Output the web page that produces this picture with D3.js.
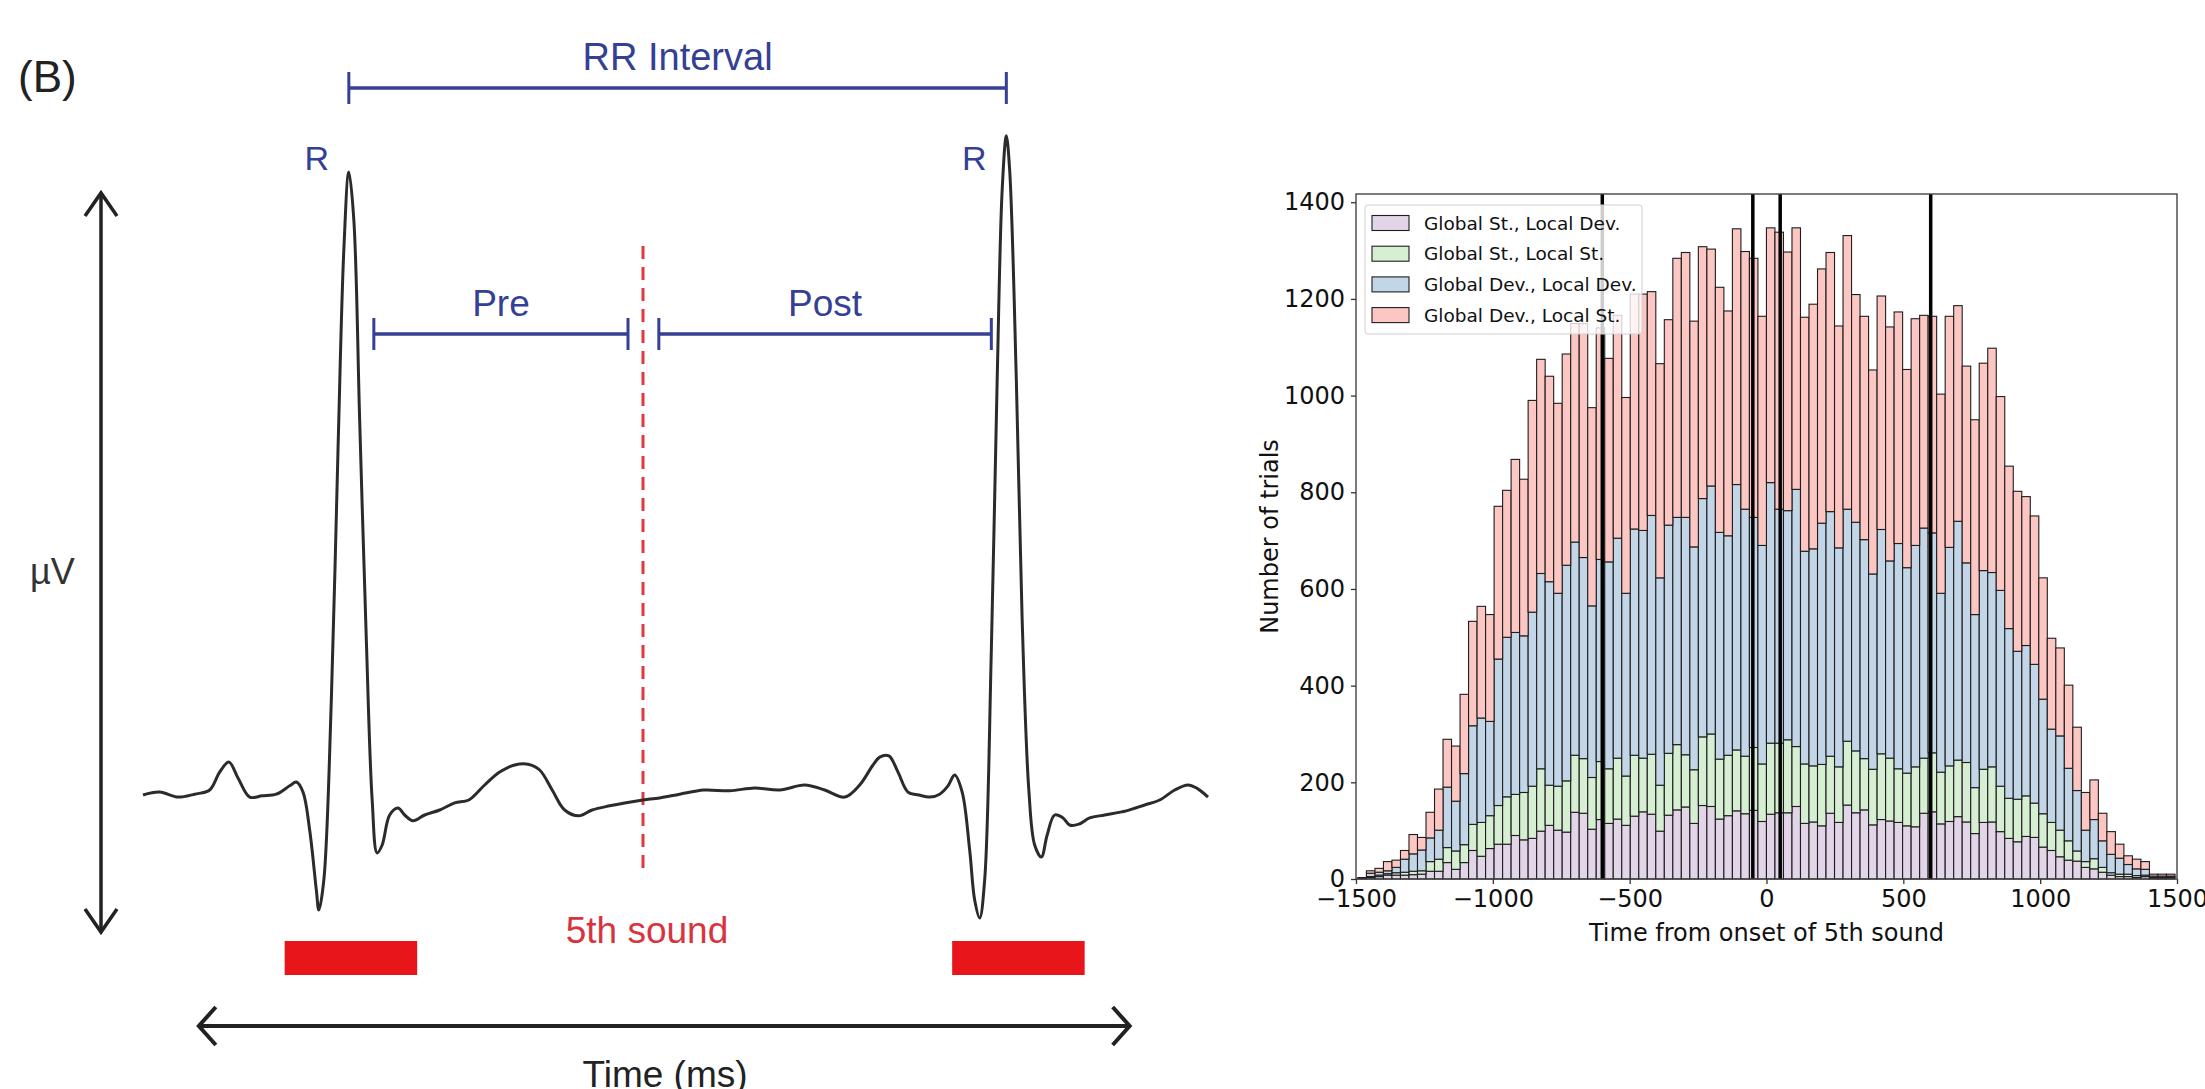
<!DOCTYPE html>
<html>
<head>
<meta charset="utf-8">
<script src="https://cdn.jsdelivr.net/npm/d3@7"></script>
<style>
  body { margin: 0; background: #fff; }
  svg { display: block; }
</style>
</head>
<body>
<div id="chart"></div>
<script>
// ---------- left panel: schematic ECG (time in ms, amplitude in µV)
const ecgTime = [0,20,42,62,80,92,103,114,128,143,160,176,184,192,200,208,211,217,226,234,241,247,253,260,268,275,281,287,296,306,314,324,338,356,374,391,410,428,446,462,476,491,506,523,539,560,578,600,620,644,673,704,734,764,794,818,842,860,876,884,895,906,918,931,944,956,966,974,983,992,998,1004,1010,1018,1025,1031,1036,1040,1048,1055,1063,1070,1078,1085,1094,1104,1112,1123,1136,1154,1180,1202,1220,1238,1254,1264,1278];
const ecgVolt = [0,7,-5,2,12,55,79,41,-5,-2,2,22,31,7,-84,-228,-276,-204,228,828,1308,1495,1380,900,372,-12,-139,-120,-48,-31,-48,-62,-48,-36,-19,-12,24,55,72,74,60,12,-36,-50,-36,-26,-19,-12,-7,2,12,10,17,12,24,12,-5,24,72,91,94,55,7,0,-5,2,22,48,7,-132,-252,-295,-204,348,996,1452,1582,1500,996,420,12,-120,-149,-96,-48,-55,-72,-70,-55,-48,-38,-24,-12,12,24,17,-5];
const rPeaks = [247, 1036];
const preWindow = [277, 582];
const postWindow = [619, 1018];
const soundOnset = 600;
const redWindows = [[170, 329], [971, 1130]];
const timeSpan = [67, 1184];
const voltSpan = [-329, 1445];

// ---------- right panel: stacked histogram of trials
const binStart = -1493, binWidth = 31.1;
const seriesNames = ["Global St., Local Dev.", "Global St., Local St.", "Global Dev., Local Dev.", "Global Dev., Local St."];
const stLocDev = [1,3,5,8,8,8,9,10,16,16,34,20,34,59,47,63,72,72,90,81,84,99,111,101,97,138,136,103,123,115,124,111,130,139,134,99,132,143,149,115,152,150,124,131,141,135,142,119,134,137,137,150,115,118,110,136,117,153,137,143,112,123,120,117,110,108,136,139,114,119,129,118,94,117,118,98,84,77,88,86,66,59,46,39,37,24,21,14,8,5,5,3,5,1,1,2];
const stLocSt = [0,2,3,3,5,6,7,7,20,25,31,38,37,54,70,68,80,98,85,98,108,129,83,91,106,118,113,107,120,113,126,102,126,111,124,95,128,135,108,111,142,150,124,125,126,119,130,119,147,144,151,124,123,116,127,118,115,132,128,106,115,136,130,111,109,124,114,122,107,115,117,123,95,110,114,94,83,88,84,71,69,58,55,40,21,12,21,10,5,5,5,4,3,2,2,2];
const devLocDev = [1,7,6,6,11,27,36,43,49,60,125,103,147,204,216,195,303,330,335,324,360,404,421,399,446,441,416,355,418,428,455,378,468,471,494,429,472,470,491,461,493,513,469,454,549,511,476,452,539,484,474,532,440,449,499,506,453,480,473,453,404,464,408,466,425,458,476,455,370,452,494,413,358,411,402,405,351,306,311,287,237,193,195,150,125,65,81,55,38,33,20,14,12,3,3,2];
const devLocSt = [1,5,8,19,15,18,40,26,53,85,99,114,164,216,231,221,316,304,358,324,438,443,425,393,437,452,484,410,479,421,461,405,486,489,463,443,425,536,548,467,521,490,507,465,529,533,536,474,527,573,535,541,484,506,526,536,459,566,471,462,422,483,484,479,410,469,440,448,412,478,446,407,403,429,464,401,336,331,308,307,251,188,182,172,131,78,82,57,47,29,18,20,16,4,4,4];
const xTicks = [-1500, -1000, -500, 0, 500, 1000, 1500];
const yTicks = [0, 200, 400, 600, 800, 1000, 1200, 1400];
const markerLines = [-600, -50, 50, 600];

const W = 2205, H = 1089;
const svg = d3.select("#chart").append("svg")
  .attr("width", W).attr("height", H)
  .style("background", "#fff");

// ================= left panel =================
const navy = "#343f95";
const left = svg.append("g").style("font-family", "'Liberation Sans', Arial, Helvetica, sans-serif");

const tx = d3.scaleLinear().domain([0, 1200]).range([143, 1143]);
const vy = d3.scaleLinear().domain([0, 1500]).range([795, 170]);

function chevron(g, x, y, dx, dy, color, w) {
  g.append("path")
    .attr("d", `M${x + dx},${y - dy}L${x},${y}L${x + dx},${y + dy}`)
    .attr("fill", "none").attr("stroke", color).attr("stroke-width", w);
}
function chevronV(g, x, y, dx, dy, color, w) {
  g.append("path")
    .attr("d", `M${x - dx},${y + dy}L${x},${y}L${x + dx},${y + dy}`)
    .attr("fill", "none").attr("stroke", color).attr("stroke-width", w);
}

left.append("text").attr("x", 18).attr("y", 92)
  .attr("font-size", 44).attr("fill", "#222").text("(B)");

// RR interval bar
const rrY = 88;
left.append("line").attr("x1", tx(rPeaks[0])).attr("x2", tx(rPeaks[1]))
  .attr("y1", rrY).attr("y2", rrY).attr("stroke", navy).attr("stroke-width", 3.5);
rPeaks.forEach(t => {
  left.append("line").attr("x1", tx(t)).attr("x2", tx(t))
    .attr("y1", rrY - 16).attr("y2", rrY + 16).attr("stroke", navy).attr("stroke-width", 3);
});
left.append("text").attr("x", (tx(rPeaks[0]) + tx(rPeaks[1])) / 2).attr("y", 70)
  .attr("text-anchor", "middle").attr("font-size", 38).attr("fill", navy).text("RR Interval");

// R labels
rPeaks.forEach(t => {
  left.append("text").attr("x", tx(t) - 32).attr("y", 170)
    .attr("text-anchor", "middle").attr("font-size", 34).attr("fill", navy).text("R");
});

// Pre / Post bars
const ppY = 334;
[[preWindow, "Pre"], [postWindow, "Post"]].forEach(([win, label]) => {
  left.append("line").attr("x1", tx(win[0])).attr("x2", tx(win[1]))
    .attr("y1", ppY).attr("y2", ppY).attr("stroke", navy).attr("stroke-width", 3.5);
  win.forEach(t => {
    left.append("line").attr("x1", tx(t)).attr("x2", tx(t))
      .attr("y1", ppY - 16).attr("y2", ppY + 16).attr("stroke", navy).attr("stroke-width", 3);
  });
  left.append("text").attr("x", (tx(win[0]) + tx(win[1])) / 2).attr("y", 316)
    .attr("text-anchor", "middle").attr("font-size", 37).attr("fill", navy).text(label);
});

// dashed 5th sound marker
left.append("line").attr("x1", tx(soundOnset)).attr("x2", tx(soundOnset))
  .attr("y1", 246).attr("y2", 868)
  .attr("stroke", "#e0393e").attr("stroke-width", 3).attr("stroke-dasharray", "13,8");
left.append("text").attr("x", tx(soundOnset) + 4).attr("y", 943)
  .attr("text-anchor", "middle").attr("font-size", 37).attr("fill", "#d8343f").text("5th sound");

// red windows
left.selectAll("rect.win").data(redWindows).enter().append("rect")
  .attr("class", "win")
  .attr("x", d => tx(d[0])).attr("width", d => tx(d[1]) - tx(d[0]))
  .attr("y", 941).attr("height", 34).attr("fill", "#e8161b");

// ECG trace
const ecgLine = d3.line()
  .x((d, i) => tx(ecgTime[i]))
  .y(d => vy(d))
  .curve(d3.curveCatmullRom.alpha(0.5));
left.append("path").datum(ecgVolt)
  .attr("d", ecgLine).attr("fill", "none")
  .attr("stroke", "#2b2b2b").attr("stroke-width", 3).attr("stroke-linejoin", "round");

// amplitude arrow
const ax = 101;
left.append("line").attr("x1", ax).attr("x2", ax)
  .attr("y1", vy(voltSpan[1])).attr("y2", vy(voltSpan[0]))
  .attr("stroke", "#222").attr("stroke-width", 3.5);
chevronV(left, ax, vy(voltSpan[1]), 16, 23, "#222", 3.5);
chevronV(left, ax, vy(voltSpan[0]), 16, -23, "#222", 3.5);
left.append("text").attr("x", 30).attr("y", 584)
  .attr("font-size", 36).attr("fill", "#333").text("µV");

// time arrow
const ay = 1026;
left.append("line").attr("x1", tx(timeSpan[0])).attr("x2", tx(timeSpan[1]))
  .attr("y1", ay).attr("y2", ay).attr("stroke", "#222").attr("stroke-width", 4);
chevron(left, tx(timeSpan[0]), ay, 17, 19, "#222", 4);
chevron(left, tx(timeSpan[1]), ay, -17, 19, "#222", 4);
left.append("text").attr("x", 665).attr("y", 1087)
  .attr("text-anchor", "middle").attr("font-size", 37).attr("fill", "#222").text("Time (ms)");

// ================= right panel =================
const m = { left: 1356, right: 2177, top: 194, bottom: 879 };
const right = svg.append("g").style("font-family", "'DejaVu Sans', sans-serif");

const x = d3.scaleLinear().domain([-1500, 1500]).range([m.left, m.right]);
const y = d3.scaleLinear().domain([0, 1417]).range([m.bottom, m.top]);

const rows = stLocDev.map((v, i) => ({
  x0: binStart + i * binWidth,
  a: stLocDev[i], b: stLocSt[i], c: devLocDev[i], d: devLocSt[i]
}));
const keys = ["a", "b", "c", "d"];
const colors = ["#e2d5e8", "#d6eed2", "#c2d6e8", "#fcc6c2"];
const stacked = d3.stack().keys(keys)(rows);

const layers = right.selectAll("g.layer").data(stacked).enter().append("g")
  .attr("class", "layer").attr("fill", (d, i) => colors[i]);
layers.selectAll("rect").data(d => d).enter().append("rect")
  .attr("x", d => x(d.data.x0))
  .attr("width", d => x(d.data.x0 + binWidth) - x(d.data.x0))
  .attr("y", d => y(d[1]))
  .attr("height", d => y(d[0]) - y(d[1]))
  .attr("stroke", "#1e1e1e").attr("stroke-width", 1.1);

// vertical marker lines
right.selectAll("line.mark").data(markerLines).enter().append("line")
  .attr("class", "mark")
  .attr("x1", d => x(d)).attr("x2", d => x(d))
  .attr("y1", m.top).attr("y2", m.bottom)
  .attr("stroke", "#000").attr("stroke-width", 3.5);

// frame
right.append("rect").attr("x", m.left).attr("y", m.top)
  .attr("width", m.right - m.left).attr("height", m.bottom - m.top)
  .attr("fill", "none").attr("stroke", "#444").attr("stroke-width", 1.4);

// axes
const fmt = d3.format("d");
const xAxis = right.append("g").attr("transform", `translate(0,${m.bottom})`)
  .call(d3.axisBottom(x).tickValues(xTicks).tickFormat(fmt).tickSize(5).tickPadding(6));
const yAxis = right.append("g").attr("transform", `translate(${m.left},0)`)
  .call(d3.axisLeft(y).tickValues(yTicks).tickFormat(fmt).tickSize(5).tickPadding(6));
[xAxis, yAxis].forEach(a => {
  a.select(".domain").remove();
  a.selectAll("line").attr("stroke", "#333").attr("stroke-width", 1.3);
  a.selectAll("text").attr("font-size", 24).attr("fill", "#111")
    .style("font-family", "'DejaVu Sans', sans-serif");
});

right.append("text").attr("x", x(0)).attr("y", 941)
  .attr("text-anchor", "middle").attr("font-size", 24).attr("fill", "#111")
  .text("Time from onset of 5th sound");
right.append("text")
  .attr("transform", `translate(1278,${(m.top + m.bottom) / 2}) rotate(-90)`)
  .attr("text-anchor", "middle").attr("font-size", 24).attr("fill", "#111")
  .text("Number of trials");

// legend
const lg = right.append("g");
lg.append("rect").attr("x", 1365).attr("y", 205).attr("width", 277).attr("height", 129)
  .attr("rx", 3).attr("fill", "#fff").attr("fill-opacity", 0.8)
  .attr("stroke", "#d0d0d0").attr("stroke-width", 1);
seriesNames.forEach((name, i) => {
  const cy = 223 + i * 30.7;
  lg.append("rect").attr("x", 1372).attr("y", cy - 7.5).attr("width", 37).attr("height", 15)
    .attr("fill", colors[i]).attr("stroke", "#1e1e1e").attr("stroke-width", 1.1);
  lg.append("text").attr("x", 1424).attr("y", cy + 6.5)
    .attr("font-size", 18.5).attr("fill", "#111").text(name);
});
</script>
</body>
</html>
